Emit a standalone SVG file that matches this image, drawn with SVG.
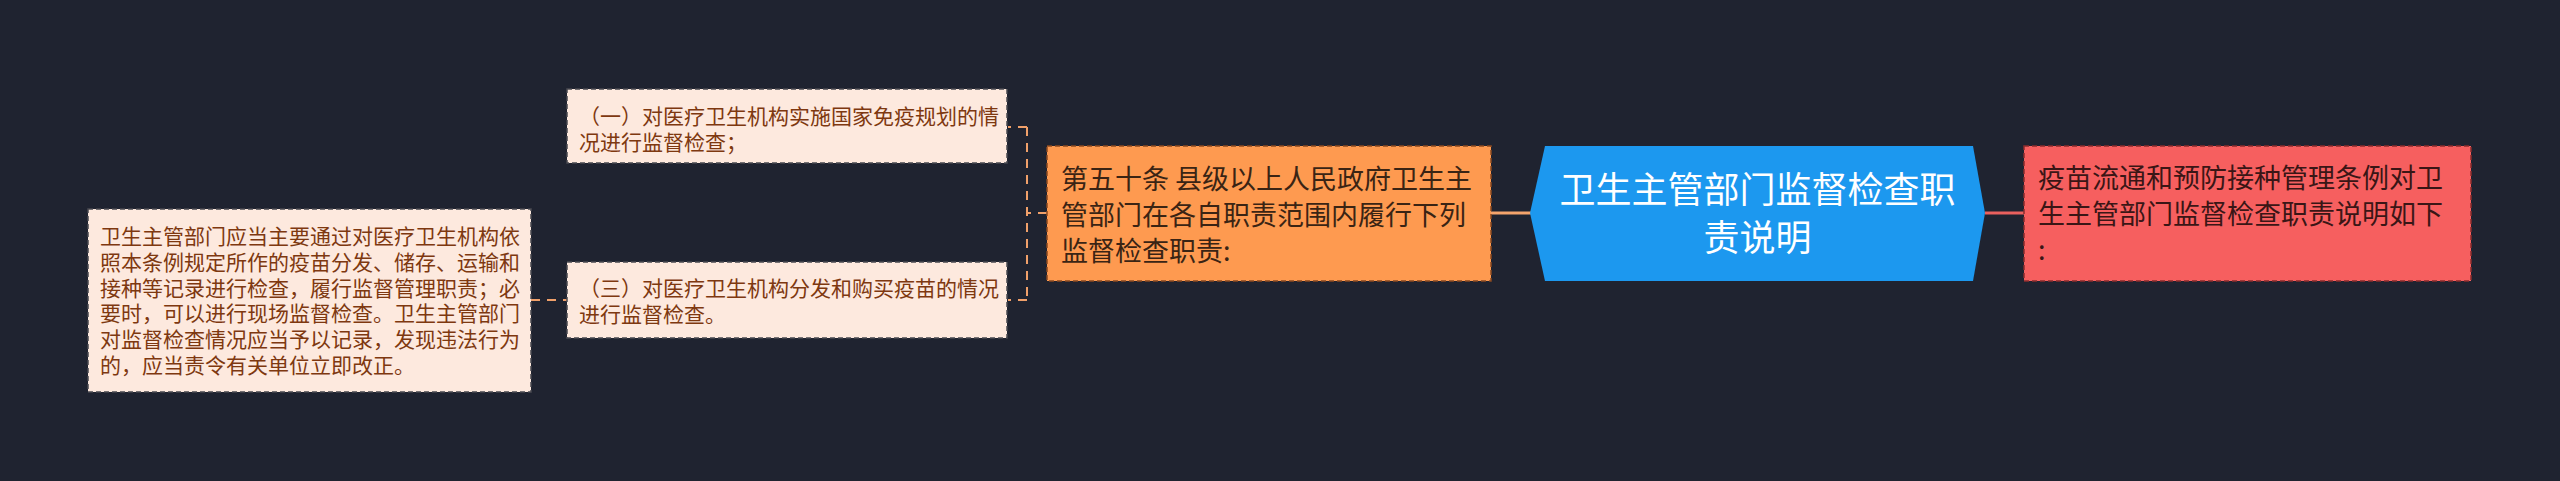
<svg xmlns="http://www.w3.org/2000/svg" width="2560" height="481" viewBox="0 0 2560 481">
<style>
text{font-family:"Noto Sans CJK SC","Noto Sans",sans-serif;}
.lt{fill:#fde9de;stroke:#4a4a50;stroke-width:1.5;stroke-dasharray:5,3;}
.ltx{font-size:21px;fill:#7e3810;}
.og{fill:#fe9a50;stroke:#8a4a20;stroke-width:1.5;stroke-dasharray:5,3;}
.ogx{font-size:27px;fill:#3a2414;}
.rd{fill:#f65f5f;stroke:#8a2c2c;stroke-width:1.5;stroke-dasharray:5,3;}
.rdx{font-size:27px;fill:#3a1616;}
.bl{fill:#1c98ef;}
.blx{font-size:36px;fill:#ffffff;text-anchor:middle;}
.dash{fill:none;stroke:#f0a06a;stroke-width:2;stroke-dasharray:9,7;}
</style>
<rect width="2560" height="481" fill="#1f2330"/>
<g id="connectors">
<path class="dash" d="M1047,213 H1027 M1027,127 V300 M1027,127 H1008 M1027,300 H1008"/>
<path class="dash" d="M531,300 H568"/>
<line x1="1491" y1="213" x2="1531" y2="213" stroke="#f4a46c" stroke-width="3"/>
<line x1="1985" y1="213" x2="2024" y2="213" stroke="#ea605e" stroke-width="3"/>
</g>
<g id="root">
<polygon class="bl" points="1530,213 1545,146 1973,146 1985,213 1973,281 1545,281"/>
<text class="blx" x="1757.5" y="203">卫生主管部门监督检查职</text>
<text class="blx" x="1757.5" y="251">责说明</text>
</g>
<g id="intro">
<rect class="rd" x="2024" y="146" width="447" height="135"/>
<text class="rdx" x="2038" y="188">疫苗流通和预防接种管理条例对卫</text>
<text class="rdx" x="2038" y="224">生主管部门监督检查职责说明如下</text>
<text class="rdx" x="2038" y="260">:</text>
</g>
<g id="article50">
<rect class="og" x="1047" y="146" width="444" height="135"/>
<text class="ogx" x="1061" y="188.5">第五十条 县级以上人民政府卫生主</text>
<text class="ogx" x="1061" y="224.5">管部门在各自职责范围内履行下列</text>
<text class="ogx" x="1061" y="260.5">监督检查职责:</text>
</g>
<g id="item1">
<rect class="lt" x="567" y="89" width="440" height="74"/>
<text class="ltx" x="579" y="123.5">（一）对医疗卫生机构实施国家免疫规划的情</text>
<text class="ltx" x="579" y="149.5">况进行监督检查；</text>
</g>
<g id="item3">
<rect class="lt" x="567" y="262" width="440" height="76"/>
<text class="ltx" x="579" y="295.5">（三）对医疗卫生机构分发和购买疫苗的情况</text>
<text class="ltx" x="579" y="322">进行监督检查。</text>
</g>
<g id="detail">
<rect class="lt" x="88" y="209" width="443" height="183"/>
<text class="ltx" x="100" y="243.7">卫生主管部门应当主要通过对医疗卫生机构依</text>
<text class="ltx" x="100" y="269.6">照本条例规定所作的疫苗分发、储存、运输和</text>
<text class="ltx" x="100" y="295.5">接种等记录进行检查，履行监督管理职责；必</text>
<text class="ltx" x="100" y="321.4">要时，可以进行现场监督检查。卫生主管部门</text>
<text class="ltx" x="100" y="347.3">对监督检查情况应当予以记录，发现违法行为</text>
<text class="ltx" x="100" y="373.2">的，应当责令有关单位立即改正。</text>
</g>
</svg>
